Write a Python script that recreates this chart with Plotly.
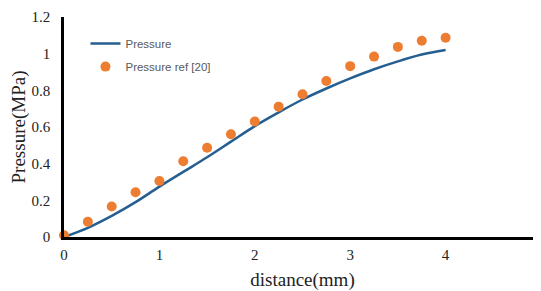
import plotly.graph_objects as go

# Data
line_x = [0, 0.25, 0.5, 0.75, 1.0, 1.25, 1.5, 1.75, 2.0, 2.25, 2.5, 2.75, 3.0, 3.25, 3.5, 3.75, 4.0]
line_y = [0, 0.05, 0.115, 0.19, 0.275, 0.355, 0.435, 0.52, 0.605, 0.68, 0.75, 0.81, 0.865, 0.915, 0.958, 0.995, 1.02]

ref_x = [0, 0.25, 0.5, 0.75, 1.0, 1.25, 1.5, 1.75, 2.0, 2.25, 2.5, 2.75, 3.0, 3.25, 3.5, 3.75, 4.0]
ref_y = [0.01, 0.083, 0.166, 0.244, 0.305, 0.413, 0.487, 0.56, 0.63, 0.711, 0.779, 0.851, 0.932, 0.984, 1.037, 1.07, 1.087]

x_ticks = [0, 1, 2, 3, 4, 5]
y_ticks = [0, 0.2, 0.4, 0.6, 0.8, 1, 1.2]
y_tick_text = ["0", "0.2", "0.4", "0.6", "0.8", "1", "1.2"]

fig = go.Figure()
fig.add_trace(go.Scatter(
    x=line_x, y=line_y, mode="lines", name="Pressure", legendgroup="a",
    line=dict(color="#255E91", width=2.5, shape="spline"),
))
fig.add_trace(go.Scatter(
    x=ref_x, y=ref_y, mode="markers", name="Pressure ref [20]", legendgroup="b",
    marker=dict(color="#ED7D31", size=10),
    cliponaxis=False,
))

serif = "Liberation Serif, Times New Roman, serif"
# page has an 8px body margin, so the figure is sized to fit the 541x291 window
fig.update_layout(
    width=533, height=283,
    margin=dict(l=56, r=0, t=9, b=54, autoexpand=False),
    paper_bgcolor="white", plot_bgcolor="white",
    showlegend=True,
    legend=dict(
        x=0.045, y=0.945, xanchor="left", yanchor="top",
        font=dict(family="Liberation Sans, Arial, sans-serif", size=11.5, color="#595959"),
        bgcolor="rgba(0,0,0,0)", tracegroupgap=4,
    ),
    xaxis=dict(
        range=[0, 5], tickvals=x_ticks, showgrid=False, zeroline=False, automargin=False,
        showline=True, linecolor="black", linewidth=2.5, ticks="", ticklabelstandoff=2,
        ticklabeloverflow="allow",
        tickfont=dict(family=serif, size=15, color="#222222"),
        title=dict(text="distance(mm)", font=dict(family=serif, size=19, color="#222222"), standoff=12),
    ),
    yaxis=dict(
        range=[0, 1.2], tickvals=y_ticks, ticktext=y_tick_text, showgrid=False, zeroline=False, automargin=False,
        showline=True, linecolor="black", linewidth=2.5, ticks="", ticklabelstandoff=8,
        tickfont=dict(family=serif, size=15, color="#222222"),
        title=dict(text="Pressure(MPa)", font=dict(family=serif, size=19, color="#222222"), standoff=10),
    ),
)
fig.write_html("out.html")
